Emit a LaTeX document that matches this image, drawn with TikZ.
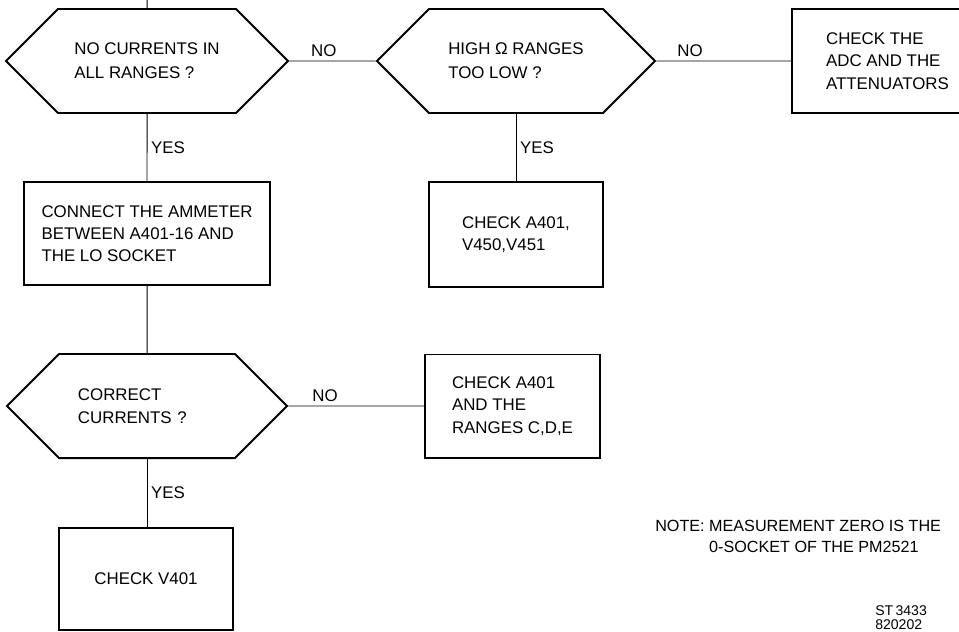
\documentclass[tikz,border=0pt]{standalone}
\usepackage{fontspec}
\setmainfont{Liberation Sans}
\usetikzlibrary{
    shapes.symbols,
    positioning
}
\tikzset{
  decision/.style={
    draw,
    line width=1.4pt,
    signal,
    signal to=east and west,
    signal pointer angle=90,
    inner sep=0pt,
    align=left,
    font=\fontsize{12}{16.8}\selectfont
  },
  action/.style={
    draw,
    line width=1.4pt,
    rectangle,
    inner sep=0pt,
    align=left,
    font=\fontsize{12}{15.8}\selectfont
  },
  link/.style={
    black,
    line width=0.7pt
  },
  tag/.style={
    inner sep=2.5pt,
    font=\fontsize{12}{14}\selectfont
  }
}

\begin{document}
\begin{tikzpicture}[x=0.025cm, y=-0.025cm]
    \useasboundingbox (0,0) rectangle (959,631);
    \clip (0,0) rectangle (959,631);

    % 判断
    \node[decision, minimum width=7.05cm, minimum height=2.6cm] (Q1) at (147,61) {NO CURRENTS IN\\ALL RANGES ?};
    \node[decision, minimum width=6.95cm, minimum height=2.6cm] (Q2) at (516,61) {HIGH Ω RANGES\\TOO LOW ?};
    \node[decision, minimum width=7cm, minimum height=2.6cm, text width=3.45cm] (Q3) at (147,406) {CORRECT\\CURRENTS ?};

    % 処理
    \node[action, minimum width=6.15cm, minimum height=2.575cm] (C1) at (147,233.5) {CONNECT THE AMMETER\\BETWEEN A401-16 AND\\THE LO SOCKET};
    \node[action, minimum width=4.35cm, minimum height=2.625cm] (C2) at (516,234.5) {CHECK A401,\\V450,V451};
    \node[action, minimum width=4.775cm, minimum height=2.6cm] (C3) at (887.5,61) {CHECK THE\\ADC AND THE\\ATTENUATORS};
    \node[action, minimum width=4.375cm, minimum height=2.575cm] (C4) at (512.5,406) {CHECK A401\\AND THE\\RANGES C,D,E};
    \node[action, minimum width=4.35cm, minimum height=2.55cm] (C5) at (146,579) {CHECK V401};

    % 辺
    \coordinate (top) at (147,-5);
    \draw[link] (top) -- (Q1);
    \draw[link] (Q1) -- node[tag, above, pos=0.4] {NO} (Q2);
    \draw[link] (Q2) -- node[tag, above, pos=0.25] {NO} (C3);
    \draw[link] (Q1) -- node[tag, right] {YES} (C1);
    \draw[link] (Q2.south) -- node[tag, right] {YES} (Q2.south |- C2.north);
    \draw[link] (C1) -- (Q3);
    \draw[link] (Q3) -- node[tag, above, pos=0.27] {NO} (C4);
    \draw[link] (Q3.south) -- node[tag, right] {YES} (Q3.south |- C5.north);

    % 注記
    \node[anchor=north west, inner sep=0pt, align=left, font=\fontsize{11.5}{15}\selectfont] (note) at (655,520) {NOTE: MEASUREMENT ZERO IS THE\\\phantom{NOTE: }0-SOCKET OF THE PM2521};
    \node[anchor=north west, inner sep=0pt, align=left, font=\fontsize{10}{10}\selectfont] (code) at (875,605) {ST\,3433\\820202};
\end{tikzpicture}
\end{document}
